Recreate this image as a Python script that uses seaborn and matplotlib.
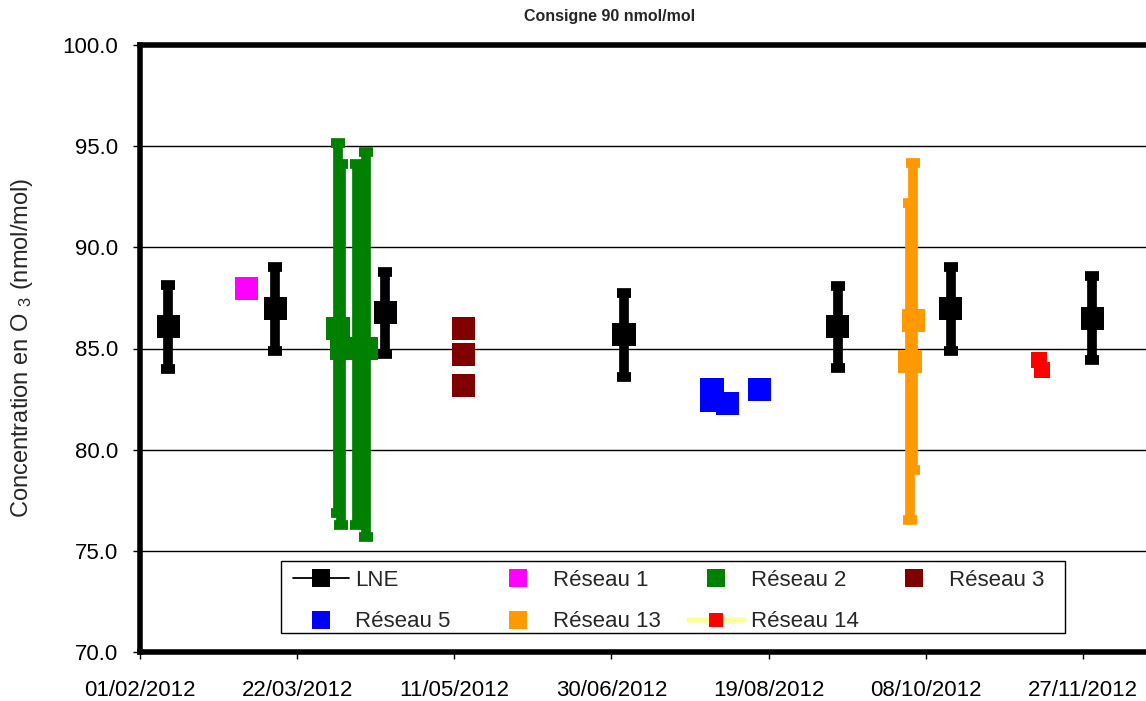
import matplotlib
matplotlib.use("Agg")
import matplotlib.pyplot as plt
import matplotlib.dates as mdates
from matplotlib.lines import Line2D
from matplotlib.patches import Rectangle
from matplotlib.ticker import FormatStrFormatter
import pandas as pd
import seaborn as sns

# ---- data -----------------------------------------------------------------
# LNE reference values with their uncertainty
lne_dates = ["2012-02-10", "2012-03-15", "2012-04-19", "2012-07-04",
             "2012-09-10", "2012-10-16", "2012-11-30"]
lne_values = [86.07, 86.97, 86.77, 85.67, 86.07, 86.97, 86.50]
lne_err = [2.07, 2.08, 2.02, 2.07, 2.03, 2.07, 2.08]

r1_dates = ["2012-03-06"]
r1_values = [87.98]

r2_dates = ["2012-04-04", "2012-04-05", "2012-04-10", "2012-04-13"]
r2_values = [85.97, 85.00, 85.00, 85.00]
r2_err_low = [9.12, 8.70, 8.70, 9.30]
r2_err_high = [9.18, 9.10, 9.10, 9.70]

r3_dates = ["2012-05-14", "2012-05-14", "2012-05-14"]
r3_values = [85.98, 84.68, 83.17]

r5_dates = ["2012-08-01", "2012-08-01", "2012-08-06", "2012-08-16"]
r5_values = [82.97, 82.43, 82.26, 82.95]

r13_dates = ["2012-10-03", "2012-10-04"]
r13_values = [84.36, 86.39]
r13_err_low = [7.84, 7.39]
r13_err_high = [7.82, 7.78]

r14_dates = ["2012-11-13", "2012-11-14"]
r14_values = [84.43, 83.94]

series_names = ["LNE", "Réseau 1", "Réseau 2", "Réseau 3",
                "Réseau 5", "Réseau 13", "Réseau 14"]
series_colors = ["#000000", "#FF00FF", "#008000", "#800000",
                 "#0000FF", "#FF9900", "#FF0000"]
x_ticks = ["2012-02-01", "2012-03-22", "2012-05-11", "2012-06-30",
           "2012-08-19", "2012-10-08", "2012-11-27"]
y_ticks = [70, 75, 80, 85, 90, 95, 100]

# ---- style ----------------------------------------------------------------
sns.set_theme(style="ticks")
plt.rcParams["font.family"] = ["Liberation Sans", "DejaVu Sans"]
plt.rcParams["mathtext.default"] = "regular"

palette = dict(zip(series_names, series_colors))
marker_sizes = {name: 275 for name in series_names}
marker_sizes["Réseau 14"] = 135

W, H = 1146, 701
fig = plt.figure(figsize=(W / 100, H / 100), dpi=100)
ax = fig.add_axes([140 / W, 1 - 652 / H, (1152 - 140) / W, (652 - 45) / H])

# ---- long-form table of all measured points -------------------------------
point_sets = [
    ("LNE", lne_dates, lne_values),
    ("Réseau 1", r1_dates, r1_values),
    ("Réseau 2", r2_dates, r2_values),
    ("Réseau 3", r3_dates, r3_values),
    ("Réseau 5", r5_dates, r5_values),
    ("Réseau 13", r13_dates, r13_values),
    ("Réseau 14", r14_dates, r14_values),
]
df = pd.concat(
    [pd.DataFrame({"series": name, "date": pd.to_datetime(d), "value": v})
     for name, d, v in point_sets],
    ignore_index=True,
)

# ---- error bars -----------------------------------------------------------
bar_kw = dict(fmt="none", elinewidth=7, capsize=5, capthick=7, zorder=3)
ax.errorbar(pd.to_datetime(lne_dates), lne_values, yerr=lne_err,
            ecolor=palette["LNE"], **bar_kw)
ax.errorbar(pd.to_datetime(r2_dates), r2_values,
            yerr=[r2_err_low, r2_err_high], ecolor=palette["Réseau 2"], **bar_kw)
ax.errorbar(pd.to_datetime(r13_dates), r13_values,
            yerr=[r13_err_low, r13_err_high], ecolor=palette["Réseau 13"], **bar_kw)

# Réseau 14 is joined by a pale yellow line
ax.plot(pd.to_datetime(r14_dates), r14_values, color="#FFFF99", lw=4, zorder=3.5)

# ---- markers --------------------------------------------------------------
sns.scatterplot(data=df, x="date", y="value", hue="series", palette=palette,
                size="series", sizes=marker_sizes, marker="s", linewidth=0,
                legend=False, ax=ax, zorder=4)

# ---- axes -----------------------------------------------------------------
ax.set_xlim(pd.Timestamp("2012-02-01"), pd.Timestamp("2012-12-19"))
ax.set_ylim(70, 100)
ax.set_xticks(pd.to_datetime(x_ticks))
ax.xaxis.set_major_formatter(mdates.DateFormatter("%d/%m/%Y"))
ax.set_yticks(y_ticks)
ax.yaxis.set_major_formatter(FormatStrFormatter("%.1f"))
ax.set_xlabel("")
ax.set_ylabel("")
ax.yaxis.grid(True, color="black", lw=1)
ax.set_axisbelow(True)
for sp in ax.spines.values():
    sp.set_visible(True)
    sp.set_color("black")
    sp.set_linewidth(4)
ax.tick_params(axis="both", direction="out", length=5, width=1,
               labelsize=16, colors="black")
ax.tick_params(axis="x", pad=15)
ax.tick_params(axis="y", pad=11)

fig.text(610 / W, 1 - 16 / H, "Consigne 90 nmol/mol", ha="center", va="center",
         fontsize=11.5, fontweight="bold")
fig.text(22 / W, 1 - 348 / H, "Concentration en O $_{3}$ (nmol/mol)",
         rotation=90, ha="center", va="center", fontsize=17)

# ---- legend ---------------------------------------------------------------
def square(color, ms=13.5):
    return Line2D([], [], ls="none", marker="s", ms=ms, mfc=color, mec=color, mew=0)

handles = {
    "LNE": Line2D([], [], color="black", lw=1.3, marker="s", ms=13.5,
                  mfc="black", mec="black", mew=0),
    "Réseau 1": square(palette["Réseau 1"]),
    "Réseau 2": square(palette["Réseau 2"]),
    "Réseau 3": square(palette["Réseau 3"]),
    "Réseau 5": square(palette["Réseau 5"]),
    "Réseau 13": square(palette["Réseau 13"]),
    "Réseau 14": Line2D([], [], color="#FFFF99", lw=4, marker="s", ms=10,
                        mfc=palette["Réseau 14"], mec=palette["Réseau 14"], mew=0),
}
# column-major filling so that the rows read LNE, Réseau 1, 2, 3 / Réseau 5, 13, 14
order = ["LNE", "Réseau 5", "Réseau 1", "Réseau 13", "Réseau 2", "Réseau 14", "Réseau 3"]
# equal-width columns: the short first column is padded to the width of the others
texts = {k: k for k in order}
texts["Réseau 5"] = "Réseau 5  "

# legend box
ax.add_patch(Rectangle((281 / W, 1 - 633 / H), (1065 - 281) / W, (633 - 561) / H,
                       transform=fig.transFigure, facecolor="white",
                       edgecolor="black", lw=1, zorder=9, clip_on=False))
leg = ax.legend([handles[k] for k in order], [texts[k] for k in order], ncol=4,
                loc="upper left", bbox_to_anchor=(293 / W, 1 - 570 / H),
                bbox_transform=fig.transFigure, fontsize=16, frameon=False,
                borderpad=0, handlelength=2.5, handletextpad=0.3,
                columnspacing=1.25, labelspacing=0.92, borderaxespad=0)
leg.set_zorder(10)

fig.savefig("out.png", dpi=100)
